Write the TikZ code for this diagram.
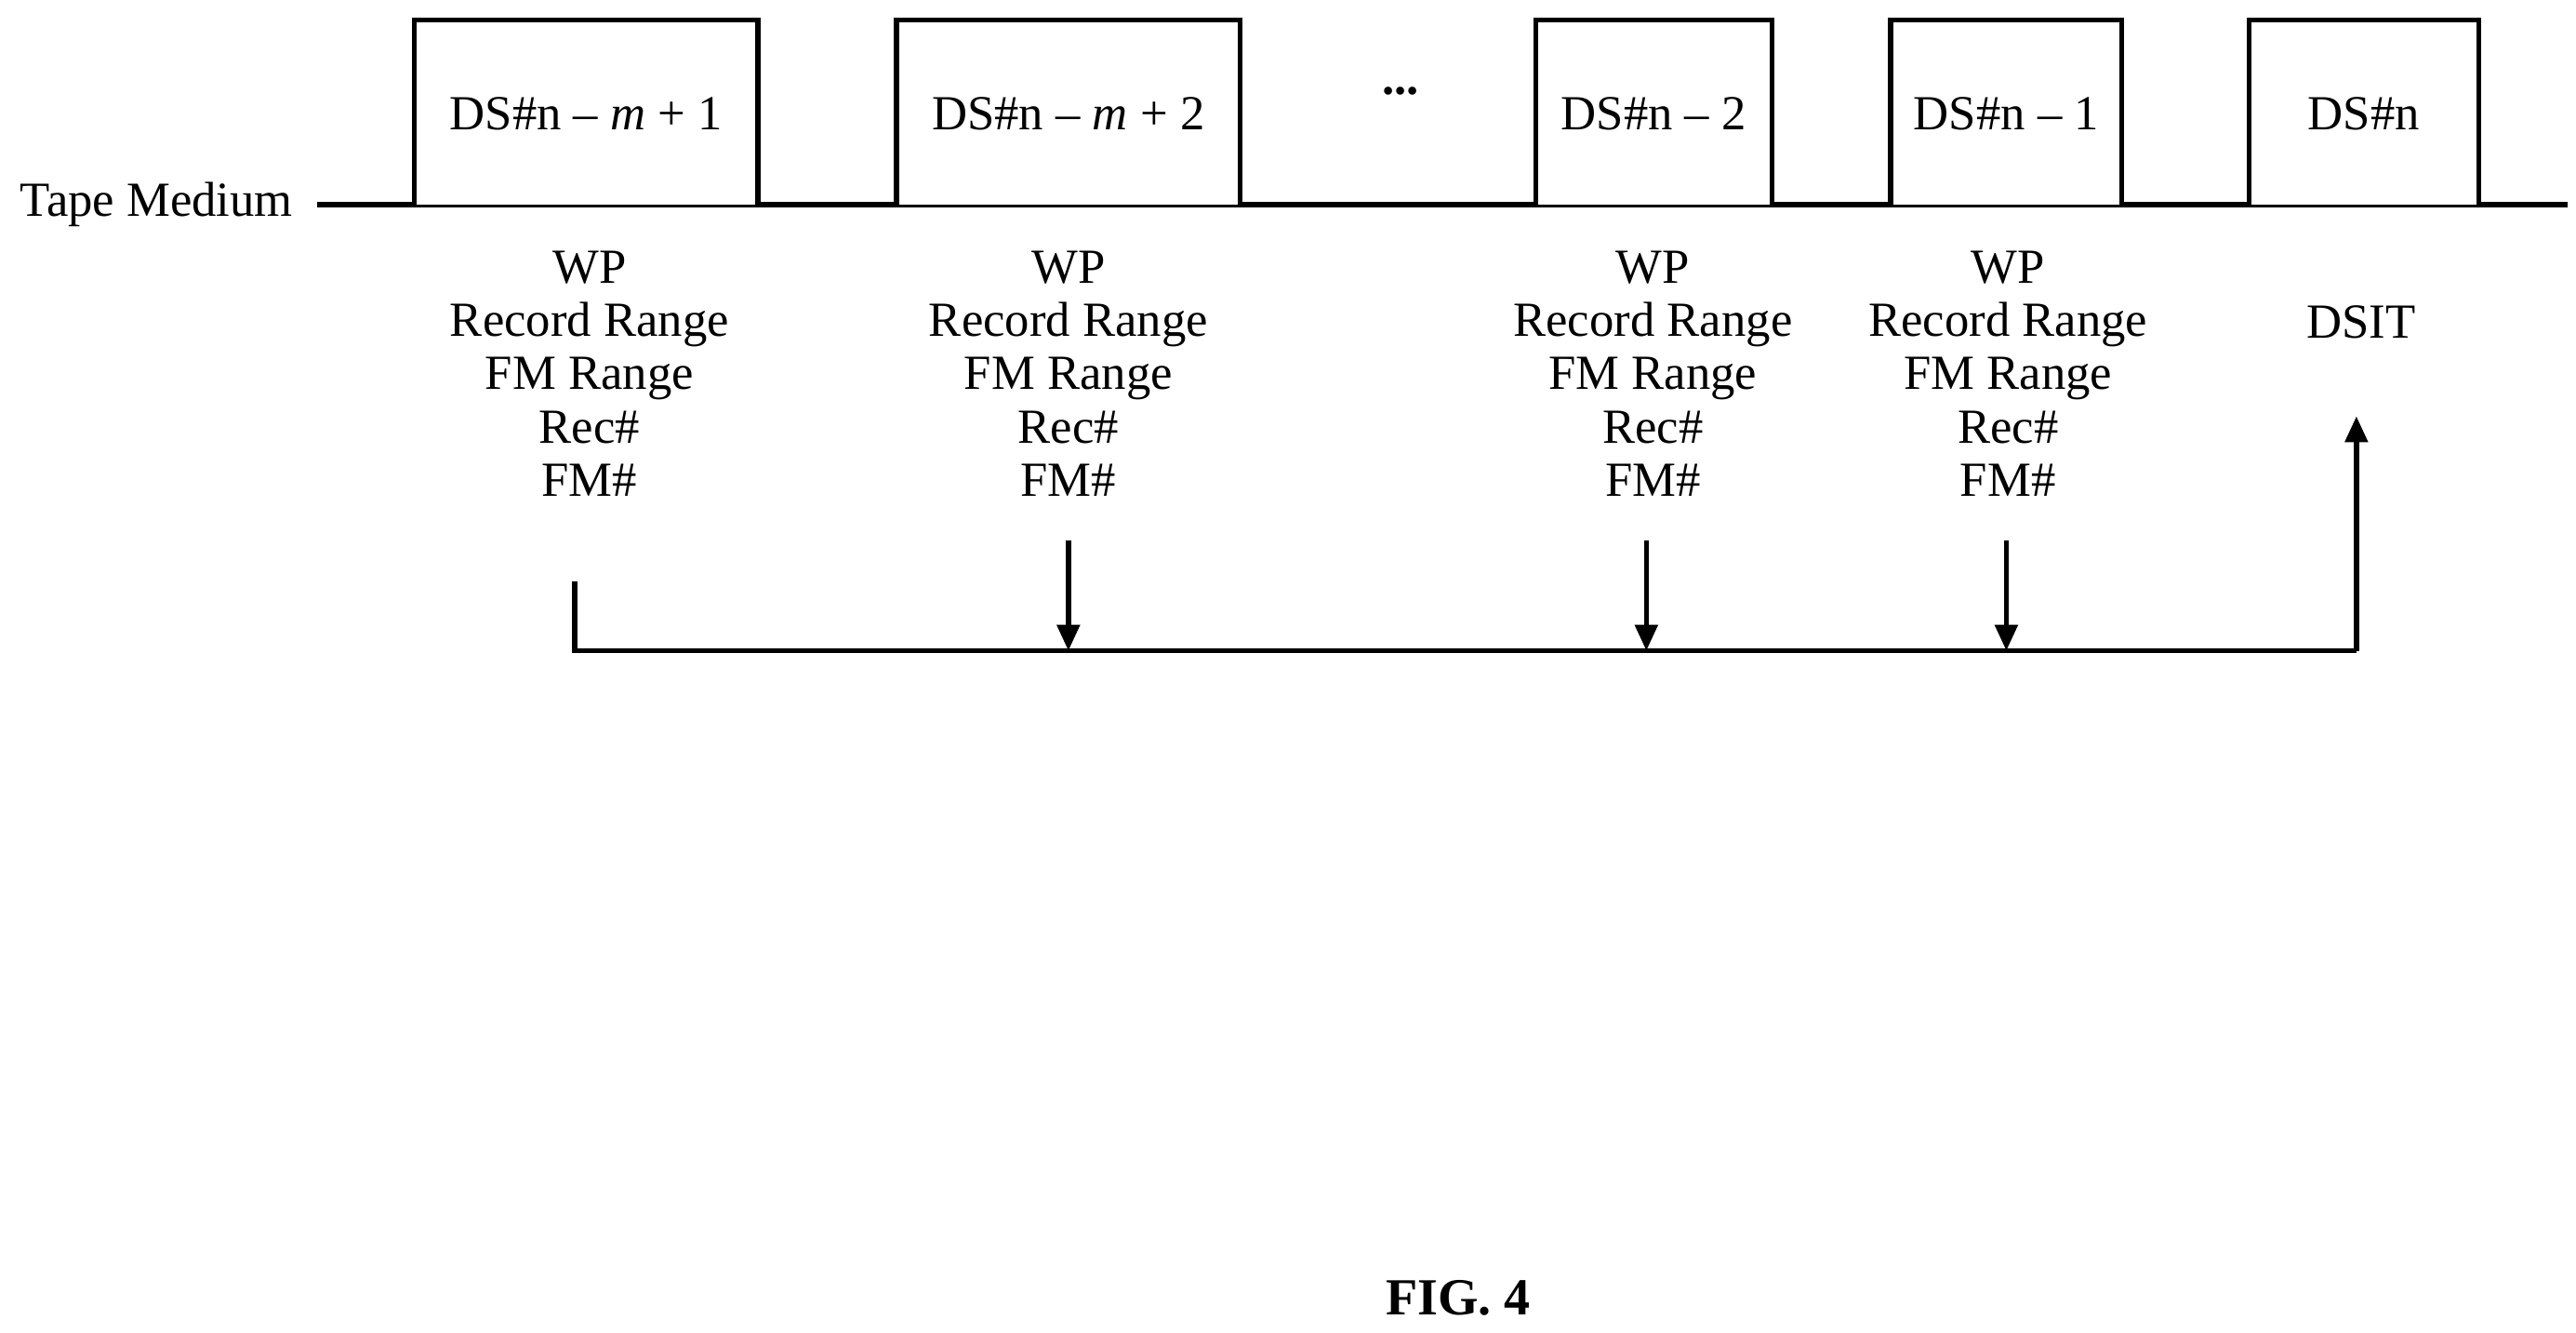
\documentclass[tikz,border=0pt]{standalone}
\usepackage{fontspec}
\setmainfont{Liberation Serif}
\usetikzlibrary{arrows.meta}
\begin{document}
\begin{tikzpicture}[x=1.7756pt,y=-1.7756pt,
  ln/.style={line width=5.5pt},
  box/.style={ln,draw,fill=white},
  t/.style={font=\fontsize{52.7}{62}\selectfont,inner sep=0pt,align=center},
  arr/.style={ln,-{Triangle[length=28pt,width=24pt]}}]
\useasboundingbox (0,0) rectangle (1560,807);
\draw[ln] (192,124) -- (1555,124);
\node[t,anchor=west] (tm) at (12,124) {Tape Medium};
\foreach \a/\b/\n/\l in {251/459/b1/{DS\#n -- \textit{m} + 1},543/751/b2/{DS\#n -- \textit{m} + 2},930/1073/b3/{DS\#n -- 2},1145/1285/b4/{DS\#n -- 1},1362/1501/b5/{DS\#n}}{
  \draw[box] (\a,124) -- (\a,12) -- (\b,12) -- (\b,124);
  \node[t] (\n) at ({(\a+\b)/2},69) {\l};}
\node[t] (dots) at (848,55) {\textbf{...}};
\foreach \x/\n in {357/i1,647/i2,1001/i3,1216/i4}{
  \node[t,anchor=north] (\n) at (\x,152) {WP\\[-0.2ex]Record Range\\[-0.2ex]FM Range\\[-0.2ex]Rec\#\\[-0.2ex]FM\#};}
\node[t] (dsit) at (1430,195) {DSIT};
\coordinate (s) at (348,352);
\coordinate (e) at (1427,394);
\draw[ln] (s) -- (348,394) -- (e);
\foreach \x in {647,997,1215}{\draw[arr] (\x,327) -- (\x,394);}
\draw[arr] (e) -- (1427,252);
\node[t,font=\fontsize{56}{62}\selectfont\bfseries] (fig) at (883,786) {FIG. 4};
\end{tikzpicture}
\end{document}
